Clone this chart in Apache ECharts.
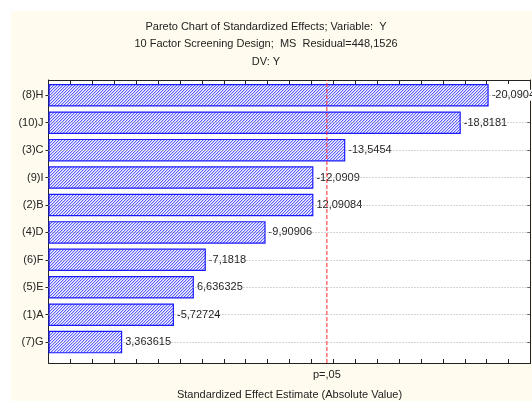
<!DOCTYPE html>
<html>
<head>
<meta charset="utf-8">
<script src="https://cdn.jsdelivr.net/npm/echarts@6/dist/echarts.min.js"></script>
<style>
html,body{margin:0;padding:0;background:#fff;}
#chart{width:532px;height:401px;}
</style>
</head>
<body>
<div id="chart"></div>
<script>
// ---- data ----
const categories = ['(8)H', '(10)J', '(3)C', '(9)I', '(2)B', '(4)D', '(6)F', '(5)E', '(1)A', '(7)G'];
const effects = [-20.0904, -18.8181, -13.5454, -12.0909, 12.09084, -9.90906, -7.1818, 6.636325, -5.72724, 3.363615];
const pCritical = 12.706;
const pLabel = 'p=,05';
const titleLines = [
  'Pareto Chart of Standardized Effects; Variable:  Y',
  '10 Factor Screening Design;  MS  Residual=448,1526',
  'DV: Y'
];
const xName = 'Standardized Effect Estimate (Absolute Value)';
const xMin = 0, xMax = 22, xStep = 1;

// ---- hatch pattern ----
function makeHatch() {
  const n = 3;
  const c = document.createElement('canvas');
  c.width = n; c.height = n;
  const ctx = c.getContext('2d');
  const img = ctx.createImageData(n, n);
  const cols = [[92, 92, 255], [196, 196, 255], [246, 246, 255]];
  for (let y = 0; y < n; y++) {
    for (let x = 0; x < n; x++) {
      const col = cols[(x + y) % n];
      const i = (y * n + x) * 4;
      img.data[i] = col[0]; img.data[i + 1] = col[1]; img.data[i + 2] = col[2]; img.data[i + 3] = 255;
    }
  }
  ctx.putImageData(img, 0, 0);
  return c;
}

const font = 'Liberation Sans, Arial, sans-serif';
const txt = '#222';
const axisCol = '#222';
const L = 48.5, W = 482;
const red = '#ff2a2a';

const chart = echarts.init(document.getElementById('chart'), null, {renderer: 'canvas'});
chart.setOption({
  backgroundColor: '#ffffff',
  animation: false,
  textStyle: {fontFamily: font},
  graphic: [{
    type: 'rect', z: -10, silent: true,
    shape: {x: 11, y: 11, width: 530, height: 400},
    style: {fill: '#FFFBEF'}
  }],
  title: {
    text: titleLines.join('\n'),
    left: 'center', top: 13,
    padding: [5, 5, 5, 15],
    textStyle: {fontSize: 11, fontWeight: 'normal', color: txt, lineHeight: 17.5, fontFamily: font}
  },
  grid: [
    {left: L, width: W, top: 80, height: 283, show: true, backgroundColor: '#ffffff', borderWidth: 0, containLabel: false, outerBoundsMode: 'none'},
    {left: L, width: W, top: 81.6, height: 274.2, show: false, containLabel: false, outerBoundsMode: 'none'}
  ],
  xAxis: [
    {gridIndex: 0, type: 'value', min: xMin, max: xMax, interval: xStep, position: 'bottom',
     name: xName, nameLocation: 'middle', nameGap: 26,
     nameTextStyle: {fontSize: 11, color: txt, fontFamily: font},
     axisLine: {show: true, onZero: false, lineStyle: {color: axisCol, width: 1}},
     axisTick: {show: true, inside: true, length: 4, lineStyle: {color: axisCol}},
     axisLabel: {show: false}, splitLine: {show: false}},
    {gridIndex: 0, type: 'value', min: xMin, max: xMax, interval: xStep, position: 'top',
     axisLine: {show: true, onZero: false, lineStyle: {color: axisCol, width: 1}},
     axisTick: {show: true, inside: true, length: 4, lineStyle: {color: axisCol}},
     axisLabel: {show: false}, splitLine: {show: false}},
    {gridIndex: 1, type: 'value', min: xMin, max: xMax, interval: xStep, show: false}
  ],
  yAxis: [
    {gridIndex: 0, type: 'value', min: 0, max: 1, position: 'left',
     axisLine: {show: true, onZero: false, lineStyle: {color: axisCol, width: 1}},
     axisTick: {show: false}, axisLabel: {show: false}, splitLine: {show: false}},
    {gridIndex: 0, type: 'value', min: 0, max: 1, position: 'right',
     axisLine: {show: true, onZero: false, lineStyle: {color: axisCol, width: 1}},
     axisTick: {show: false}, axisLabel: {show: false}, splitLine: {show: false}},
    {gridIndex: 1, type: 'category', data: categories, inverse: true, position: 'left',
     axisLine: {show: false, onZero: false},
     axisTick: {show: true, alignWithLabel: true, length: 3, lineStyle: {color: axisCol}},
     axisLabel: {fontSize: 11, color: txt, margin: 5, fontFamily: font},
     splitLine: {show: false}},
    {gridIndex: 1, type: 'category', data: categories, inverse: true, position: 'right',
     axisLine: {show: false, onZero: false},
     axisTick: {show: true, inside: true, alignWithLabel: true, length: 3, lineStyle: {color: axisCol}},
     axisLabel: {show: false}, splitLine: {show: false}}
  ],
  series: [
    {
      type: 'line', xAxisIndex: 2, yAxisIndex: 2, data: [], z: 1, silent: true,
      markLine: {
        silent: true, symbol: ['none', 'none'], label: {show: false},
        lineStyle: {color: '#a8a8a8', width: 1, type: [1, 2]},
        data: categories.map(c => ({yAxis: c}))
      }
    },
    {
      type: 'bar', xAxisIndex: 2, yAxisIndex: 2, z: 3,
      data: effects.map(v => Math.abs(v)),
      barCategoryGap: '18%',
      itemStyle: {color: {image: makeHatch(), repeat: 'repeat'}, borderColor: '#1a1aff', borderWidth: 1.2},
      label: {
        show: true, position: 'right', distance: 2,
        fontSize: 11, color: txt, fontFamily: font,
        backgroundColor: '#ffffff', padding: [0, 1],
        formatter: p => String(effects[p.dataIndex]).replace('.', ',')
      }
    },
    {
      type: 'line', xAxisIndex: 0, yAxisIndex: 0, z: 4, silent: true,
      symbol: 'circle', symbolSize: 0, showSymbol: true,
      color: red,
      itemStyle: {color: red, borderWidth: 0},
      lineStyle: {color: red, width: 1, type: [4, 2]},
      label: {show: false},
      data: [
        {value: [pCritical, 0], label: {show: true, position: 'bottom', distance: 6, formatter: pLabel, fontSize: 11, color: txt, fontFamily: font}},
        {value: [pCritical, 1]}
      ]
    }
  ]
});
</script>
</body>
</html>
